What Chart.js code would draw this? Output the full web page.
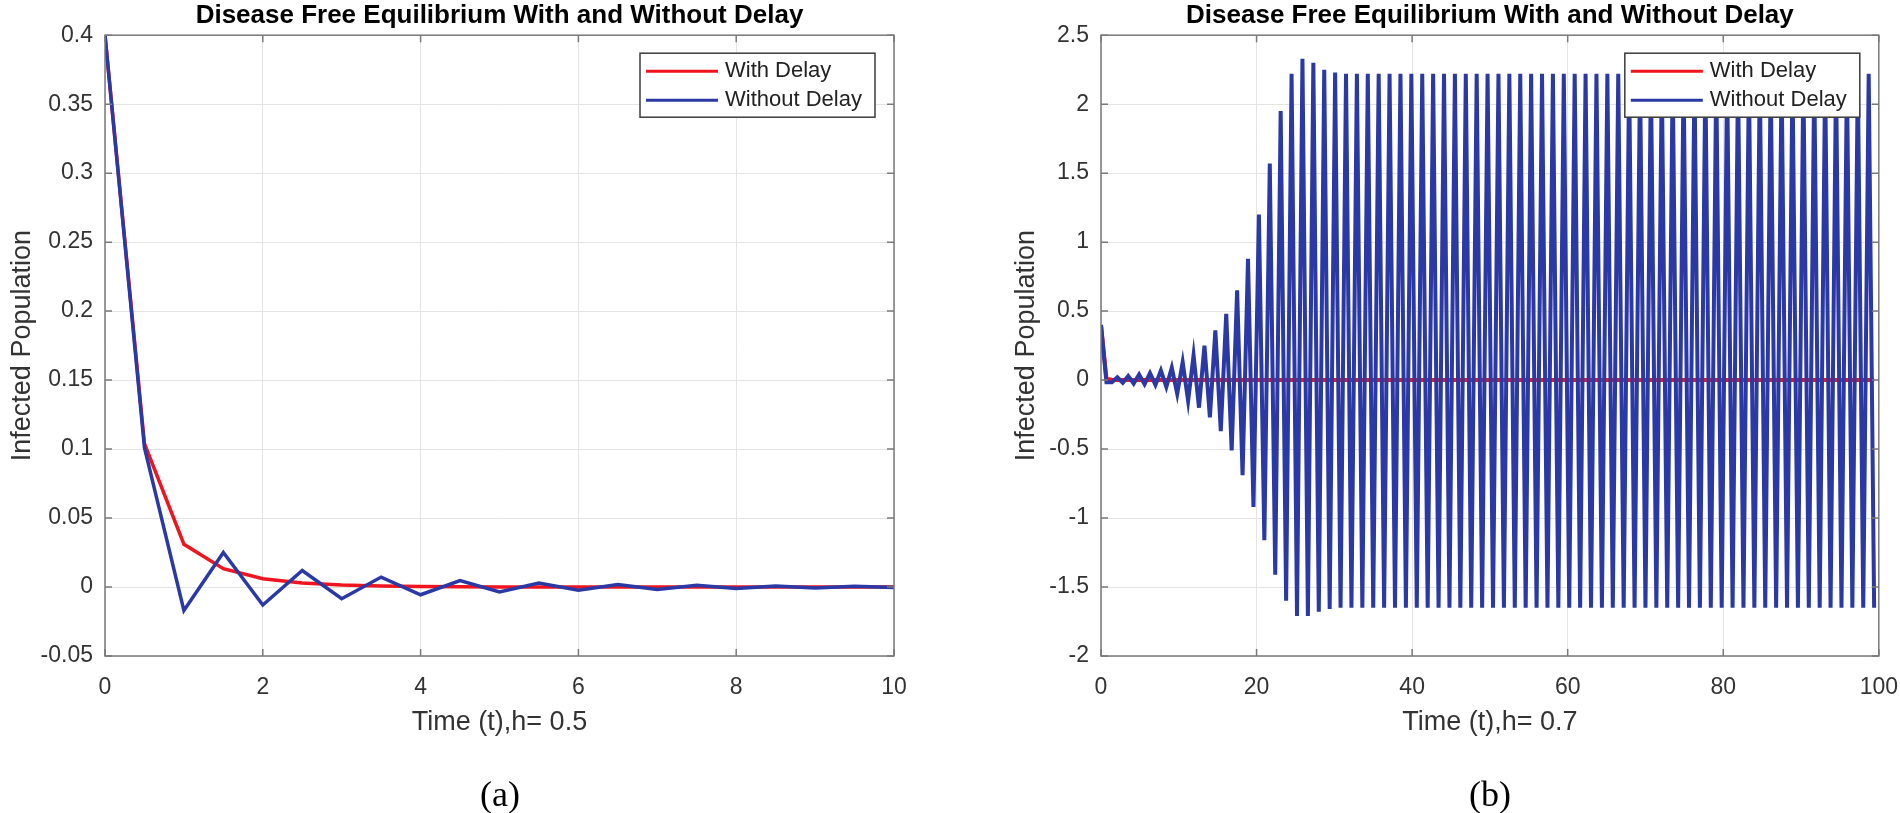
<!DOCTYPE html>
<html lang="en">
<head>
<meta charset="utf-8">
<title>Disease Free Equilibrium With and Without Delay</title>
<script src="https://cdn.jsdelivr.net/npm/chart.js@4/dist/chart.umd.min.js"></script>
<style>
  html, body { margin: 0; padding: 0; background: #fff; }
  body    { position: relative; width: 1900px; height: 813px; overflow: hidden; }
  .panel  { position: absolute; top: 0; height: 813px; }
  #panelA { left: 0;     width: 950px; }
  #panelB { left: 950px; width: 966px; }   /* wider than the page so the plot reaches x≈1877 */
  .caption {
    position: absolute; top: 773px; width: 120px; text-align: center;
    font: 36px/42px "Liberation Serif", "Times New Roman", serif; color: #000;
  }
  #capA { left: 440px; }
  #capB { left: 1430px; }
</style>
</head>
<body>
<div class="panel" id="panelA"><canvas id="chartA"></canvas></div>
<div class="panel" id="panelB"><canvas id="chartB"></canvas></div>
<div class="caption" id="capA">(a)</div>
<div class="caption" id="capB">(b)</div>

<script>
// ── Data ─────────────────────────────────────────────────────────────────────
const TITLE        = 'Disease Free Equilibrium With and Without Delay';
const SERIES_NAMES = ['With Delay', 'Without Delay'];
const Y_LABEL      = 'Infected Population';

// (a) step h = 0.5
const A_TIME = [0, 0.5, 1, 1.5, 2, 2.5, 3, 3.5, 4, 4.5, 5, 5.5, 6, 6.5, 7, 7.5, 8, 8.5, 9, 9.5, 10];
const A_WITH_DELAY = [0.4, 0.104, 0.031, 0.0133, 0.006, 0.0029, 0.0014, 0.0007, 0.0003, 0.0002, 0.0001,
                      0, 0, 0, 0, 0, 0, 0, 0, 0, 0];
const A_WITHOUT_DELAY = [0.4, 0.101, -0.017, 0.025, -0.013, 0.012, -0.0085, 0.0072, -0.0056, 0.0046, -0.0036,
                         0.0029, -0.0024, 0.0019, -0.0017, 0.0012, -0.0011, 0.0008, -0.0007, 0.0005, -0.0004];
const A_X_TICKS = [0, 2, 4, 6, 8, 10];
const A_Y_TICKS = [-0.05, 0, 0.05, 0.1, 0.15, 0.2, 0.25, 0.3, 0.35, 0.4];

// (b) step h = 0.7
const B_STEP = 0.7;
const B_WITH_DELAY = [
  0.4, 0.01, 0.003, 0.001, 0, 0, 0, 0, 0, 0,
  0, 0, 0, 0, 0, 0, 0, 0, 0, 0,
  0, 0, 0, 0, 0, 0, 0, 0, 0, 0,
  0, 0, 0, 0, 0, 0, 0, 0, 0, 0,
  0, 0, 0, 0, 0, 0, 0, 0, 0, 0,
  0, 0, 0, 0, 0, 0, 0, 0, 0, 0,
  0, 0, 0, 0, 0, 0, 0, 0, 0, 0,
  0, 0, 0, 0, 0, 0, 0, 0, 0, 0,
  0, 0, 0, 0, 0, 0, 0, 0, 0, 0,
  0, 0, 0, 0, 0, 0, 0, 0, 0, 0,
  0, 0, 0, 0, 0, 0, 0, 0, 0, 0,
  0, 0, 0, 0, 0, 0, 0, 0, 0, 0,
  0, 0, 0, 0, 0, 0, 0, 0, 0, 0,
  0, 0, 0, 0, 0, 0, 0, 0, 0, 0,
  0, 0, 0
];
const B_WITHOUT_DELAY = [
  0.4, -0.015, -0.015, 0.02, -0.02, 0.03, -0.025, 0.04, -0.03, 0.05,
  -0.035, 0.07, -0.05, 0.09, -0.10, 0.13, -0.15, 0.18, -0.20, 0.25,
  -0.27, 0.36, -0.37, 0.48, -0.51, 0.65, -0.69, 0.88, -0.92, 1.20,
  -1.16, 1.57, -1.41, 1.95, -1.60, 2.22, -1.71, 2.33, -1.71, 2.30,
  -1.68, 2.25, -1.66, 2.23, -1.65, 2.22, -1.65, 2.22, -1.65, 2.22,
  -1.65, 2.22, -1.65, 2.22, -1.65, 2.22, -1.65, 2.22, -1.65, 2.22,
  -1.65, 2.22, -1.65, 2.22, -1.65, 2.22, -1.65, 2.22, -1.65, 2.22,
  -1.65, 2.22, -1.65, 2.22, -1.65, 2.22, -1.65, 2.22, -1.65, 2.22,
  -1.65, 2.22, -1.65, 2.22, -1.65, 2.22, -1.65, 2.22, -1.65, 2.22,
  -1.65, 2.22, -1.65, 2.22, -1.65, 2.22, -1.65, 2.22, -1.65, 2.22,
  -1.65, 2.22, -1.65, 2.22, -1.65, 2.22, -1.65, 2.22, -1.65, 2.22,
  -1.65, 2.22, -1.65, 2.22, -1.65, 2.22, -1.65, 2.22, -1.65, 2.22,
  -1.65, 2.22, -1.65, 2.22, -1.65, 2.22, -1.65, 2.22, -1.65, 2.22,
  -1.65, 2.22, -1.65, 2.22, -1.65, 2.22, -1.65, 2.22, -1.65, 2.22,
  -1.65, 2.22, -1.65
];
const B_TIME    = B_WITHOUT_DELAY.map((_, k) => +(k * B_STEP).toFixed(1)); // sample times t_k = k*h
const B_X_TICKS = [0, 20, 40, 60, 80, 100];
const B_Y_TICKS = [-2, -1.5, -1, -0.5, 0, 0.5, 1, 1.5, 2, 2.5];

// ── Look ─────────────────────────────────────────────────────────────────────
const FONT  = '"Liberation Sans", Arial, Helvetica, sans-serif';
const RED   = '#f0141e';
const BLUE  = '#2a39a6';
const INK   = '#333';
const GRID  = '#e4e4e4';
const FRAME = '#7a7a7a';

function fmt(v) { return String(+v.toFixed(2)); }

// ── Axes box, inward ticks and boxed legend (MATLAB style) ──────────────────
function drawFrame(chart) {
  const { ctx, chartArea: a, scales: { x, y } } = chart;
  ctx.save();
  ctx.strokeStyle = FRAME;
  ctx.lineWidth = 1.5;
  ctx.strokeRect(a.left, a.top, a.width, a.height);
  ctx.beginPath();
  x.ticks.forEach(t => {
    const px = x.getPixelForValue(t.value);
    ctx.moveTo(px, a.bottom); ctx.lineTo(px, a.bottom - 7);
    ctx.moveTo(px, a.top);    ctx.lineTo(px, a.top + 7);
  });
  y.ticks.forEach(t => {
    const py = y.getPixelForValue(t.value);
    ctx.moveTo(a.left, py);  ctx.lineTo(a.left + 7, py);
    ctx.moveTo(a.right, py); ctx.lineTo(a.right - 7, py);
  });
  ctx.stroke();
  ctx.restore();
}

function drawLegend(chart) {
  const { ctx, chartArea: a } = chart;
  const w = 235, h = 64;
  const x = a.right - 19 - w, y = a.top + 18;
  ctx.save();
  ctx.fillStyle = '#fff';
  ctx.fillRect(x, y, w, h);
  ctx.strokeStyle = '#3c3c3c';
  ctx.lineWidth = 1.5;
  ctx.strokeRect(x, y, w, h);
  ctx.font = '22px ' + FONT;
  ctx.textBaseline = 'middle';
  chart.data.datasets.forEach((ds, i) => {
    const ly = y + 18 + i * 29;
    ctx.strokeStyle = ds.borderColor;
    ctx.lineWidth = 3;
    ctx.beginPath(); ctx.moveTo(x + 6, ly); ctx.lineTo(x + 78, ly); ctx.stroke();
    ctx.fillStyle = '#222';
    ctx.fillText(ds.label, x + 85, ly);
  });
  ctx.restore();
}

const framePlugin = {
  id: 'matlabFrame',
  afterDraw(chart) { drawFrame(chart); drawLegend(chart); }
};

// ── Chart builder ────────────────────────────────────────────────────────────
function makeChart(id, p) {
  const first = arr => arr[0], last = arr => arr[arr.length - 1];
  return new Chart(document.getElementById(id), {
    type: 'line',
    data: {
      labels: p.time,
      datasets: [
        { label: SERIES_NAMES[0], data: p.withDelay,    borderColor: RED,  borderWidth: p.lineWidth, order: 2 },
        { label: SERIES_NAMES[1], data: p.withoutDelay, borderColor: BLUE, borderWidth: p.lineWidth, order: 1 }
      ]
    },
    options: {
      responsive: true,
      maintainAspectRatio: false,
      animation: false,
      layout: { padding: { left: 0, right: p.padRight, top: 0, bottom: 0 } },
      elements: {
        point: { radius: 0, hoverRadius: 0 },
        line:  { tension: 0, fill: false, borderJoinStyle: 'miter', borderCapStyle: 'butt' }
      },
      plugins: {
        legend:  { display: false },
        tooltip: { enabled: false },
        title: {
          display: true, fullSize: false, text: TITLE, color: '#000',
          font: { family: FONT, size: 26, weight: 'bold' },
          padding: { top: 0, bottom: 4 }
        }
      },
      scales: {
        x: {
          type: 'linear',
          min: first(p.xTicks), max: last(p.xTicks),
          afterBuildTicks: s => { s.ticks = p.xTicks.map(v => ({ value: v })); },
          afterFit: s => { s.height = 157; },
          grid: { color: GRID, lineWidth: 1, drawTicks: false },
          border: { display: false },
          ticks: {
            padding: 18, color: INK, maxRotation: 0, autoSkip: false,
            font: { family: FONT, size: 23 }, callback: v => fmt(v)
          },
          title: {
            display: true, text: p.xTitle, color: INK,
            font: { family: FONT, size: 27 }, padding: { top: 0, bottom: 74 }
          }
        },
        y: {
          min: first(p.yTicks), max: last(p.yTicks),
          afterBuildTicks: s => { s.ticks = p.yTicks.map(v => ({ value: v })); },
          afterFit: s => { s.width = p.yAxisWidth; },
          grid: { color: GRID, lineWidth: 1, drawTicks: false },
          border: { display: false },
          ticks: {
            padding: 12, color: INK, autoSkip: false,
            font: { family: FONT, size: 23 }, callback: v => fmt(v)
          },
          title: {
            display: true, text: Y_LABEL, color: INK,
            font: { family: FONT, size: 27 }, padding: { top: p.yTitlePad, bottom: 0 }
          }
        }
      }
    },
    plugins: [framePlugin]
  });
}

makeChart('chartA', {
  time: A_TIME, withDelay: A_WITH_DELAY, withoutDelay: A_WITHOUT_DELAY,
  xTicks: A_X_TICKS, yTicks: A_Y_TICKS, xTitle: 'Time (t),h= 0.5',
  yAxisWidth: 105, yTitlePad: 6, padRight: 56, lineWidth: 3.5
});

makeChart('chartB', {
  time: B_TIME, withDelay: B_WITH_DELAY, withoutDelay: B_WITHOUT_DELAY,
  xTicks: B_X_TICKS, yTicks: B_Y_TICKS, xTitle: 'Time (t),h= 0.7',
  yAxisWidth: 151, yTitlePad: 60, padRight: 0, lineWidth: 4
});
</script>
</body>
</html>
